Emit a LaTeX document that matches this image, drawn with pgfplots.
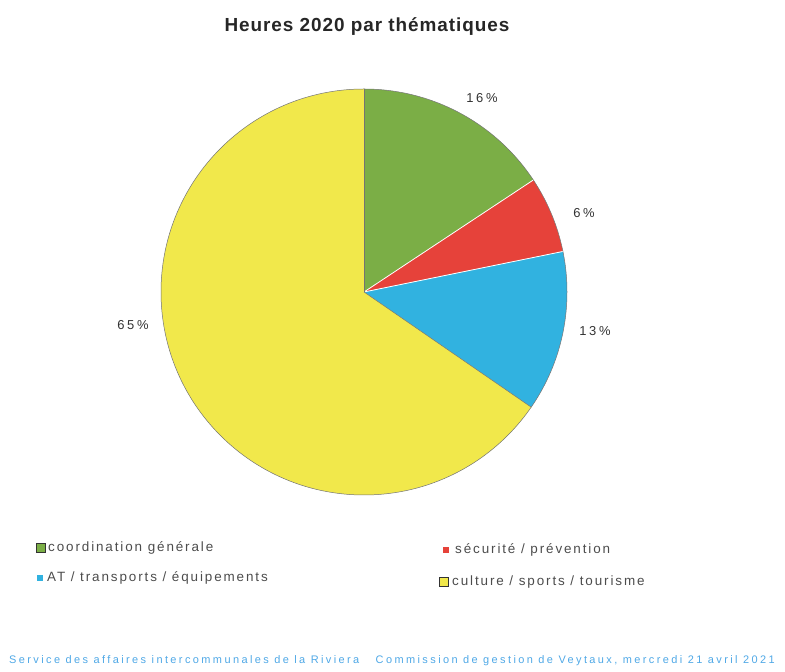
\documentclass[border=0pt]{standalone}
\usepackage{pgfplots}
\pgfplotsset{compat=1.18}
\usepackage{pgfplotstable}
\usepackage{fontspec}
\setmainfont{Liberation Sans}
\newfontfamily\titlefont[LetterSpace=5]{Liberation Sans}
\newfontfamily\pctfont[LetterSpace=20]{Liberation Sans}
\newfontfamily\legfont[LetterSpace=14]{Liberation Sans}
\newfontfamily\footfont[LetterSpace=22]{Liberation Sans}
\definecolor{cgreen}{HTML}{7BAE46}
\definecolor{cred}{HTML}{E6423A}
\definecolor{cblue}{HTML}{31B2E0}
\definecolor{cyellow}{HTML}{F1E84B}
\definecolor{cfoot}{HTML}{4FA8E6}
\pgfplotstableread{
label value
coord 15.7
secu 6.1
at 12.8
culture 65.4
}\piedata
\pgfplotstablegetelem{0}{value}\of\piedata \let\vA\pgfplotsretval
\pgfplotstablegetelem{1}{value}\of\piedata \let\vB\pgfplotsretval
\pgfplotstablegetelem{2}{value}\of\piedata \let\vC\pgfplotsretval
\pgfplotstablegetelem{3}{value}\of\piedata \let\vD\pgfplotsretval
\pgfmathsetmacro\sA{90}
\pgfmathsetmacro\eA{90-3.6*\vA}
\pgfmathsetmacro\eB{\eA-3.6*\vB}
\pgfmathsetmacro\eC{\eB-3.6*\vC}
\pgfmathsetmacro\eD{\eC-3.6*\vD}
\begin{document}
\begin{tikzpicture}
\begin{axis}[x=1bp,y=1bp,xmin=0,xmax=785,ymin=0,ymax=672,hide axis,scale only axis,clip=false]
\path (axis cs:0,0) rectangle (axis cs:785,672);
\def\cx{364}\def\cy{380}\def\R{203bp}
\fill[cgreen] (axis cs:\cx,\cy) -- ++(\sA:\R) arc[start angle=\sA,end angle=\eA,radius=\R] -- cycle;
\fill[cred] (axis cs:\cx,\cy) -- ++(\eA:\R) arc[start angle=\eA,end angle=\eB,radius=\R] -- cycle;
\fill[cblue] (axis cs:\cx,\cy) -- ++(\eB:\R) arc[start angle=\eB,end angle=\eC,radius=\R] -- cycle;
\fill[cyellow] (axis cs:\cx,\cy) -- ++(\eC:\R) arc[start angle=\eC,end angle=\eD,radius=\R] -- cycle;
\draw[white,line width=0.8pt] (axis cs:\cx,\cy) -- ++(\eA:\R);
\draw[white,line width=0.8pt] (axis cs:\cx,\cy) -- ++(\eB:\R);
\draw[black!55,line width=0.5pt] (axis cs:\cx,\cy) -- ++(\sA:\R);
\draw[black!55,line width=0.5pt] (axis cs:\cx,\cy) -- ++(\eC:\R);
\draw[black!55,line width=0.5pt] (axis cs:\cx,\cy) circle[radius=\R];
\node[font=\titlefont\bfseries\fontsize{19}{21}\selectfont,text=black!85] at (axis cs:367,645) {Heures 2020 par thématiques};
\begin{scope}[every node/.style={font=\pctfont\fontsize{13}{14}\selectfont,text=black!80}]
\node at (axis cs:482,574) {16\%};
\node at (axis cs:584,459) {6\%};
\node at (axis cs:595,341) {13\%};
\node at (axis cs:133,347) {65\%};
\end{scope}
\begin{scope}[every node/.style={font=\legfont\fontsize{13.5}{14}\selectfont,text=black!70,anchor=west,inner sep=0pt}]
\fill[cgreen,draw=black!80,line width=0.6pt] (axis cs:36,120) rectangle (axis cs:45,129);
\node at (axis cs:48,124) {coordination générale};
\fill[cblue] (axis cs:37,91) rectangle (axis cs:43,97);
\node at (axis cs:47,94) {AT / transports / équipements};
\fill[cred] (axis cs:443,119) rectangle (axis cs:449,125);
\node at (axis cs:455,122) {sécurité / prévention};
\fill[cyellow,draw=black!80,line width=0.6pt] (axis cs:439,86) rectangle (axis cs:448,95);
\node at (axis cs:452,90) {culture / sports / tourisme};
\end{scope}
\node[font=\footfont\fontsize{11}{12}\selectfont,text=cfoot,inner sep=0pt] at (axis cs:392,11) {Service des affaires intercommunales de la Riviera \quad Commission de gestion de Veytaux, mercredi 21 avril 2021};
\end{axis}
\end{tikzpicture}
\end{document}
